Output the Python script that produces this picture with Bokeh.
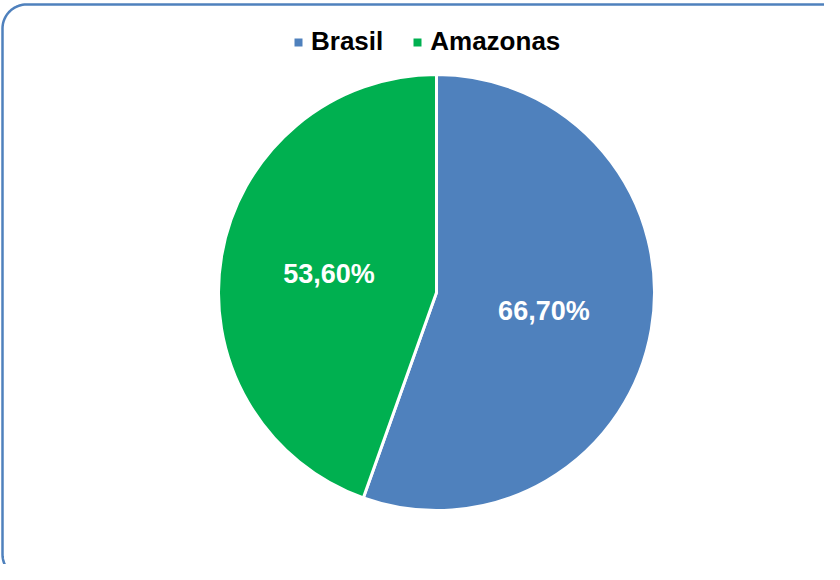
import numpy as np
from bokeh.plotting import figure
from bokeh.models import Range1d, Legend, LegendItem, ColumnDataSource
from bokeh.core.properties import value
from bokeh.embed import file_html
from bokeh.resources import INLINE

# ---- data ----
categories = ["Brasil", "Amazonas"]
values = [66.70, 53.60]
labels = ["66,70%", "53,60%"]
colors = ["#4F81BD", "#00B050"]

# ---- layout (screen-like coordinates: x = screen x, y = 580 - screen y) ----
W, H = 824, 564
p = figure(width=W, height=H, output_backend="svg", toolbar_location=None,
           x_range=Range1d(8, 8 + W), y_range=Range1d(580 - 8 - H, 580 - 8),
           min_border=0)
p.axis.visible = False
p.grid.visible = False
p.outline_line_color = None
p.background_fill_color = "white"
p.border_fill_color = "white"

# rounded frame (decoration)
r_c = 24
left, top, right, bottom = 10, 580 - 12, 1000, 580 - 586
t1 = np.linspace(np.pi / 2, np.pi, 20)
t2 = np.linspace(np.pi, 1.5 * np.pi, 20)
fx = np.concatenate([[right], left + r_c + r_c * np.cos(t1), left + r_c + r_c * np.cos(t2), [right]])
fy = np.concatenate([[top], top - r_c + r_c * np.sin(t1), bottom + r_c + r_c * np.sin(t2), [bottom]])
p.line(fx, fy, line_color="#4F81BD", line_width=2.5)

# pie
cx, cy, R = 444, 580 - 300, 218
vals = np.array(values)
frac = vals / vals.sum()
ang = frac * 2 * np.pi
ends = np.pi / 2 - np.concatenate([[0], np.cumsum(ang)[:-1]])
starts = ends - ang
mids = (starts + ends) / 2
src = ColumnDataSource(dict(cat=categories, start=starts, end=ends, color=colors,
                            lx=cx + 0.5 * R * np.cos(mids), ly=cy + 0.5 * R * np.sin(mids),
                            lab=labels))
wr = p.wedge(x=cx, y=cy, radius=R, start_angle="start", end_angle="end",
             fill_color="color", line_color="white", line_width=3, source=src)

p.text(x="lx", y="ly", text="lab", source=src, text_color="white",
       text_font=value("Liberation Sans"), text_font_style="bold",
       text_font_size="27px", text_align="center", text_baseline="middle")

# legend markers (off-canvas renderers, only for the legend)
items = []
for c, col in zip(categories, colors):
    r = p.scatter(x=[-1000], y=[-1000], marker="square", size=8, fill_color=col, line_color=None)
    items.append(LegendItem(label=c, renderers=[r]))

legend = Legend(items=items,
                orientation="horizontal", location=(288, 507),
                glyph_width=20, glyph_height=20, label_standoff=3, spacing=24,
                label_text_font="Liberation Sans", label_text_font_style="bold",
                label_text_font_size="26px", label_text_color="black",
                padding=0, margin=0, border_line_color=None, background_fill_alpha=0)
p.add_layout(legend, "center")

open("out.html", "w").write(file_html(p, INLINE))
